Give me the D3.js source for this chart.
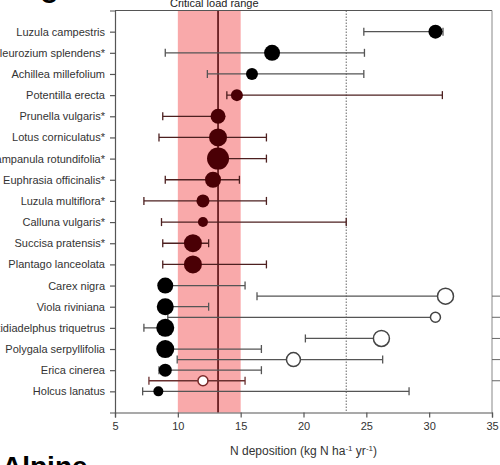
<!DOCTYPE html>
<html><head><meta charset="utf-8">
<script src="https://cdn.jsdelivr.net/npm/d3@7"></script>
<style>body{margin:0;background:#fff}svg{display:block}</style>
</head><body>
<svg id="c" width="500" height="465"></svg>
<script>
const species = ["Luzula campestris","Pleurozium splendens*","Achillea millefolium","Potentilla erecta","Prunella vulgaris*","Lotus corniculatus*","Campanula rotundifolia*","Euphrasia officinalis*","Luzula multiflora*","Calluna vulgaris*","Succisa pratensis*","Plantago lanceolata","Carex nigra","Viola riviniana","Rhytidiadelphus triquetrus","Polygala serpyllifolia","Erica cinerea","Holcus lanatus"];
const centre = [30.5,17.5,15.9,14.7,13.2,13.2,13.2,12.8,12.0,12.0,11.2,11.2,9.0,9.0,9.0,9.0,9.0,8.45];
const low    = [24.8,9.0,12.35,13.9,8.8,8.5,13.2,9.0,7.3,8.7,8.8,8.8,9.0,9.0,7.3,9.0,8.5,7.2];
const high   = [31.1,24.85,24.8,31.05,13.2,17.05,17.05,14.9,17.05,23.4,12.45,17.05,15.35,12.45,9.0,16.65,16.65,28.4];
const weight = [7,8,6,6,7.5,9,11,8,6.5,5,9,9,8,8.5,9,9,6.5,5];
const group  = ["b","b","b","r","r","r","r","r","r","r","r","r","b","b","b","b","b","b"];
// open-circle series placed between rows
const openPos    = [13.5,14.5,15.5,16.5,17.5];
const openCentre = [31.3,30.5,26.2,19.2,12.0];
const openLow    = [16.3,9.2,20.15,9.95,7.7];
const openHigh   = [31.3,30.5,26.2,26.3,15.35];
const openWeight = [8,5,8,7,5];
const openGroup  = ["b","b","b","b","r"];
const xTicks = [5,10,15,20,25,30,35];
const criticalRange = [10,15];
const criticalMean = 13.2;
const dottedRef = 23.4;

const svg = d3.select("#c");
const L=115, R=492, T=10.5, B=412.5;
const x = d3.scaleLinear().domain([5,35]).range([L,R]);
const y = d3.scaleLinear().domain([0,19]).range([T,B]);
const font = "'Liberation Sans', Arial, sans-serif";
const fillCol = {b:"#000000", r:"#4a0005"};
const strokeOpen = {b:"#444", r:"#7a2a2a"};

// critical band
svg.append("rect").attr("x",x(criticalRange[0])).attr("y",T).attr("width",x(criticalRange[1])-x(criticalRange[0])).attr("height",B-T).attr("fill","#f9a9aa");
// mean line
svg.append("line").attr("x1",x(criticalMean)).attr("x2",x(criticalMean)).attr("y1",T).attr("y2",B).attr("stroke","#4a0005").attr("stroke-width",1.5);
// dotted
svg.append("line").attr("x1",x(dottedRef)).attr("x2",x(dottedRef)).attr("y1",T).attr("y2",B).attr("stroke","#666").attr("stroke-width",1).attr("stroke-dasharray","1.5,1.5");

// frame top + right
svg.append("line").attr("x1",L).attr("x2",R).attr("y1",T).attr("y2",T).attr("stroke","#555").attr("stroke-width",1.2);
svg.append("line").attr("x1",R).attr("x2",R).attr("y1",T).attr("y2",B).attr("stroke","#888").attr("stroke-width",1);

// axes
const xAxis = d3.axisBottom(x).tickValues(xTicks).tickSize(5).tickPadding(5);
const gx = svg.append("g").attr("transform",`translate(0,${B})`).call(xAxis);
gx.selectAll("text").attr("font-family",font).attr("font-size",11).attr("fill","#333");
gx.selectAll("line,path").attr("stroke","#555").attr("stroke-width",1.2);

const yAxis = d3.axisLeft(y).tickValues(d3.range(1,19)).tickFormat(d=>species[d-1]).tickSize(5).tickPadding(5);
const gy = svg.append("g").attr("transform",`translate(${L},0)`).call(yAxis);
gy.selectAll("text").attr("font-family",font).attr("font-size",11).attr("fill","#333");
gy.selectAll("line,path").attr("stroke","#555").attr("stroke-width",1.2);

// error bars main
const cap = 4;
function errbar(g, yy, lo, hi, col){
  g.append("line").attr("x1",x(lo)).attr("x2",x(hi)).attr("y1",yy).attr("y2",yy).attr("stroke",col).attr("stroke-width",1.3);
  [lo,hi].forEach(v=>g.append("line").attr("x1",x(v)).attr("x2",x(v)).attr("y1",yy-cap).attr("y2",yy+cap).attr("stroke",col).attr("stroke-width",1.3));
}
const gBars = svg.append("g");
species.forEach((s,i)=>errbar(gBars, y(i+1), low[i], high[i], group[i]==="r"?"#4d2020":"#555"));
openPos.forEach((p,i)=>errbar(gBars, y(p), openLow[i], openHigh[i], openGroup[i]==="r"?"#6a3030":"#555"));

// points
svg.append("g").selectAll("circle").data(species).join("circle")
  .attr("cx",(d,i)=>x(centre[i])).attr("cy",(d,i)=>y(i+1)).attr("r",(d,i)=>weight[i])
  .attr("fill",(d,i)=>fillCol[group[i]]);
svg.append("g").selectAll("circle").data(openPos).join("circle")
  .attr("cx",(d,i)=>x(openCentre[i])).attr("cy",d=>y(d)).attr("r",(d,i)=>openWeight[i])
  .attr("fill","#fff").attr("stroke",(d,i)=>strokeOpen[openGroup[i]]).attr("stroke-width",1.5);

// outside right ticks (neighbouring panel)
svg.append("g").selectAll("line").data(openPos).join("line")
  .attr("x1",R).attr("x2",500).attr("y1",d=>y(d)).attr("y2",d=>y(d)).attr("stroke","#666").attr("stroke-width",1);

// texts
svg.append("text").attr("x",x(12.9)).attr("y",7).attr("text-anchor","middle").attr("font-family",font).attr("font-size",11).attr("fill","#222").text("Critical load range");
const t = svg.append("text").attr("x",x(20)).attr("y",455).attr("text-anchor","middle").attr("font-family",font).attr("font-size",12).attr("fill","#333");
t.append("tspan").text("N deposition (kg N ha");
t.append("tspan").attr("dy",-4).attr("font-size",8).text("-1");
t.append("tspan").attr("dy",4).text(" yr");
t.append("tspan").attr("dy",-4).attr("font-size",8).text("-1");
t.append("tspan").attr("dy",4).text(")");
svg.append("text").attr("x",2).attr("y",476).attr("font-family",font).attr("font-weight","bold").attr("font-size",28).attr("fill","#000").text("Alpine");
svg.append("text").attr("x",40).attr("y",3).attr("font-family",font).attr("font-weight","bold").attr("font-size",24).attr("fill","#000").text("C");
</script>
</body></html>
